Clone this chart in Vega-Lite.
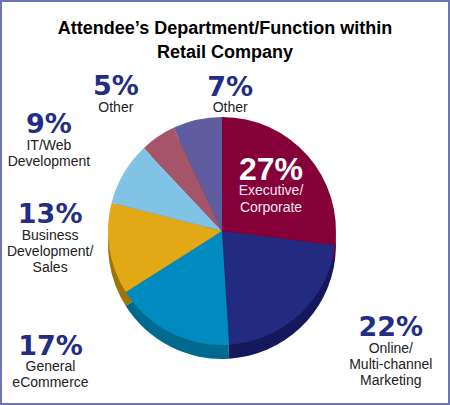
{
  "$schema": "https://vega.github.io/schema/vega-lite/v6.json",
  "width": 450,
  "height": 405,
  "autosize": "none",
  "padding": 0,
  "background": "white",
  "view": {"stroke": "#6f74b6", "strokeWidth": 4, "fill": "white"},
  "title": {
    "text": ["Attendee’s Department/Function within", "Retail Company"],
    "font": "Liberation Sans",
    "fontSize": 18,
    "fontWeight": "bold",
    "color": "#000000",
    "lineHeight": 24,
    "anchor": "middle",
    "offset": -60,
    "dy": 54
  },
  "data": {
    "values": [
      {"key": "exec", "ord": 1, "share": 27, "pct": "27%", "name": "Executive/\nCorporate"},
      {"key": "online", "ord": 2, "share": 22, "pct": "22%", "name": "Online/\nMulti-channel\nMarketing"},
      {"key": "ecom", "ord": 3, "share": 17, "pct": "17%", "name": "General\neCommerce"},
      {"key": "bizdev", "ord": 4, "share": 13, "pct": "13%", "name": "Business\nDevelopment/\nSales"},
      {"key": "itweb", "ord": 5, "share": 9, "pct": "9%", "name": "IT/Web\nDevelopment"},
      {"key": "other5", "ord": 6, "share": 5, "pct": "5%", "name": "Other"},
      {"key": "other7", "ord": 7, "share": 7, "pct": "7%", "name": "Other"}
    ]
  },
  "encoding": {
    "theta": {"field": "share", "type": "quantitative", "stack": true},
    "order": {"field": "ord", "type": "quantitative"}
  },
  "layer": [
    {
      "mark": {"type": "arc", "radius": 114, "xOffset": -3, "yOffset": 42.5},
      "encoding": {
        "color": {
          "field": "key", "type": "nominal", "legend": null,
          "scale": {
            "domain": ["exec", "online", "ecom", "bizdev", "itweb", "other5", "other7"],
            "range": ["#5c0027", "#15185c", "#006a8e", "#9e7508", "#5a8aa2", "#74394a", "#414070"]
          }
        }
      }
    },
    {
      "mark": {"type": "arc", "radius": 114, "xOffset": -3, "yOffset": 28.5},
      "encoding": {
        "color": {
          "field": "key", "type": "nominal", "legend": null,
          "scale": {
            "domain": ["exec", "online", "ecom", "bizdev", "itweb", "other5", "other7"],
            "range": ["#850038", "#222b7f", "#008bc0", "#e2a816", "#80c3e5", "#a65468", "#5f5da0"]
          }
        }
      }
    },
    {
      "mark": {"type": "text", "radius": 80, "dx": -11, "dy": 1.5, "xOffset": -3, "yOffset": 28.5, "font": "Liberation Sans", "fontSize": 32, "fontWeight": "bold", "color": "#ffffff", "align": "center", "baseline": "alphabetic"},
      "encoding": {"text": {"condition": {"test": "datum.key === 'exec'", "field": "pct", "type": "nominal"}, "value": ""}}
    },
    {
      "mark": {"type": "text", "radius": 80, "dx": -11, "dy": 16.5, "xOffset": -3, "yOffset": 28.5, "font": "Liberation Sans", "fontSize": 14, "lineHeight": 17, "lineBreak": "\n", "color": "#f7e6ee", "align": "center", "baseline": "alphabetic"},
      "encoding": {"text": {"condition": {"test": "datum.key === 'exec'", "field": "name", "type": "nominal"}, "value": ""}}
    },
    {
      "mark": {"type": "text", "radius": 194, "dx": 36, "dy": -36, "xOffset": -3, "yOffset": 28.5, "font": "DejaVu Sans", "fontSize": 27, "fontWeight": "bold", "color": "#232d84", "align": "center", "baseline": "alphabetic"},
      "encoding": {"text": {"condition": {"test": "datum.key === 'online'", "field": "pct", "type": "nominal"}, "value": ""}}
    },
    {
      "mark": {"type": "text", "radius": 194, "dx": 36, "dy": -19.5, "xOffset": -3, "yOffset": 28.5, "font": "Liberation Sans", "fontSize": 14, "lineHeight": 16, "lineBreak": "\n", "color": "#222222", "align": "center", "baseline": "alphabetic"},
      "encoding": {"text": {"condition": {"test": "datum.key === 'online'", "field": "name", "type": "nominal"}, "value": ""}}
    },
    {
      "mark": {"type": "text", "radius": 206, "dx": -78, "dy": -60, "xOffset": -3, "yOffset": 28.5, "font": "DejaVu Sans", "fontSize": 27, "fontWeight": "bold", "color": "#232d84", "align": "center", "baseline": "alphabetic"},
      "encoding": {"text": {"condition": {"test": "datum.key === 'ecom'", "field": "pct", "type": "nominal"}, "value": ""}}
    },
    {
      "mark": {"type": "text", "radius": 206, "dx": -78, "dy": -43.5, "xOffset": -3, "yOffset": 28.5, "font": "Liberation Sans", "fontSize": 14, "lineHeight": 16, "lineBreak": "\n", "color": "#222222", "align": "center", "baseline": "alphabetic"},
      "encoding": {"text": {"condition": {"test": "datum.key === 'ecom'", "field": "name", "type": "nominal"}, "value": ""}}
    },
    {
      "mark": {"type": "text", "radius": 173, "dx": -1, "dy": -35, "xOffset": -3, "yOffset": 28.5, "font": "DejaVu Sans", "fontSize": 27, "fontWeight": "bold", "color": "#232d84", "align": "center", "baseline": "alphabetic"},
      "encoding": {"text": {"condition": {"test": "datum.key === 'bizdev'", "field": "pct", "type": "nominal"}, "value": ""}}
    },
    {
      "mark": {"type": "text", "radius": 173, "dx": -1, "dy": -18.5, "xOffset": -3, "yOffset": 28.5, "font": "Liberation Sans", "fontSize": 14, "lineHeight": 16, "lineBreak": "\n", "color": "#222222", "align": "center", "baseline": "alphabetic"},
      "encoding": {"text": {"condition": {"test": "datum.key === 'bizdev'", "field": "name", "type": "nominal"}, "value": ""}}
    },
    {
      "mark": {"type": "text", "radius": 204, "dx": 2.5, "dy": 6, "xOffset": -3, "yOffset": 28.5, "font": "DejaVu Sans", "fontSize": 27, "fontWeight": "bold", "color": "#232d84", "align": "center", "baseline": "alphabetic"},
      "encoding": {"text": {"condition": {"test": "datum.key === 'itweb'", "field": "pct", "type": "nominal"}, "value": ""}}
    },
    {
      "mark": {"type": "text", "radius": 204, "dx": 2.5, "dy": 22.5, "xOffset": -3, "yOffset": 28.5, "font": "Liberation Sans", "fontSize": 14, "lineHeight": 16.5, "lineBreak": "\n", "color": "#222222", "align": "center", "baseline": "alphabetic"},
      "encoding": {"text": {"condition": {"test": "datum.key === 'itweb'", "field": "name", "type": "nominal"}, "value": ""}}
    },
    {
      "mark": {"type": "text", "radius": 180, "dx": -5, "dy": 13, "xOffset": -3, "yOffset": 28.5, "font": "DejaVu Sans", "fontSize": 27, "fontWeight": "bold", "color": "#232d84", "align": "center", "baseline": "alphabetic"},
      "encoding": {"text": {"condition": {"test": "datum.key === 'other5'", "field": "pct", "type": "nominal"}, "value": ""}}
    },
    {
      "mark": {"type": "text", "radius": 180, "dx": -5, "dy": 29.5, "xOffset": -3, "yOffset": 28.5, "font": "Liberation Sans", "fontSize": 14, "lineHeight": 16, "lineBreak": "\n", "color": "#222222", "align": "center", "baseline": "alphabetic"},
      "encoding": {"text": {"condition": {"test": "datum.key === 'other5'", "field": "name", "type": "nominal"}, "value": ""}}
    },
    {
      "mark": {"type": "text", "radius": 146, "dx": 40, "dy": 7, "xOffset": -3, "yOffset": 28.5, "font": "DejaVu Sans", "fontSize": 27, "fontWeight": "bold", "color": "#232d84", "align": "center", "baseline": "alphabetic"},
      "encoding": {"text": {"condition": {"test": "datum.key === 'other7'", "field": "pct", "type": "nominal"}, "value": ""}}
    },
    {
      "mark": {"type": "text", "radius": 146, "dx": 40, "dy": 23.5, "xOffset": -3, "yOffset": 28.5, "font": "Liberation Sans", "fontSize": 14, "lineHeight": 16, "lineBreak": "\n", "color": "#222222", "align": "center", "baseline": "alphabetic"},
      "encoding": {"text": {"condition": {"test": "datum.key === 'other7'", "field": "name", "type": "nominal"}, "value": ""}}
    }
  ],
  "resolve": {"scale": {"color": "independent"}}
}
